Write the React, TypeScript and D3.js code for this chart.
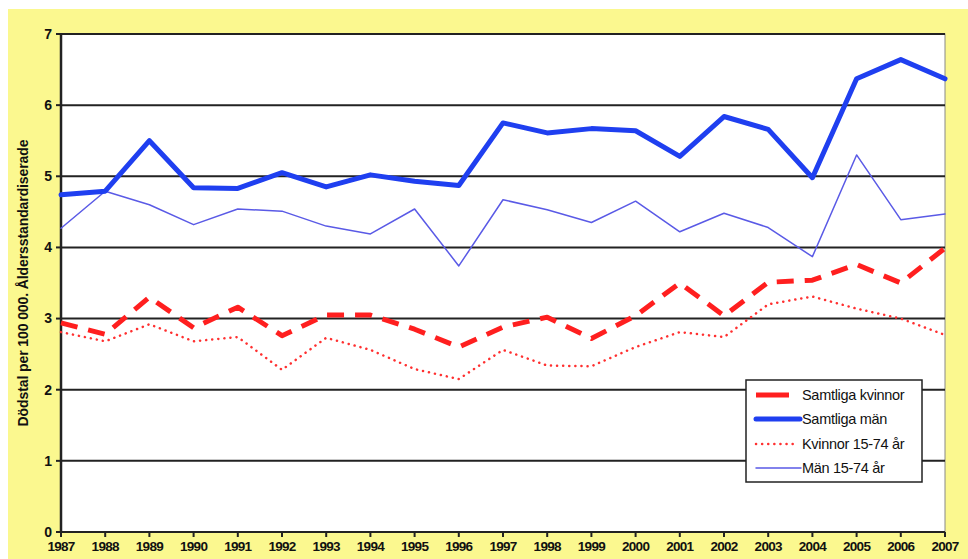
import React from "react";
import * as d3 from "d3";

const years = d3.range(1987, 2008);
const yTicks = [0, 1, 2, 3, 4, 5, 6, 7];

const samtligaMan = [4.74, 4.79, 5.5, 4.84, 4.83, 5.05, 4.85, 5.02, 4.93, 4.87, 5.75, 5.61, 5.67, 5.64, 5.28, 5.84, 5.66, 4.98, 6.37, 6.64, 6.37];
const man1574 = [4.27, 4.79, 4.6, 4.32, 4.54, 4.51, 4.3, 4.19, 4.54, 3.74, 4.67, 4.53, 4.35, 4.65, 4.22, 4.48, 4.28, 3.87, 5.3, 4.39, 4.47];
const samtligaKvinnor = [2.94, 2.78, 3.3, 2.87, 3.16, 2.76, 3.05, 3.05, 2.85, 2.6, 2.88, 3.02, 2.72, 3.04, 3.5, 3.04, 3.51, 3.54, 3.76, 3.5, 3.99];
const kvinnor1574 = [2.81, 2.68, 2.92, 2.68, 2.74, 2.28, 2.73, 2.56, 2.29, 2.15, 2.56, 2.34, 2.33, 2.6, 2.81, 2.74, 3.2, 3.31, 3.14, 3.0, 2.77];

const series = [
  { name: "Samtliga kvinnor", values: samtligaKvinnor, color: "#ff1f1f", width: 5, dash: "17,11", cap: "butt", legLen: 33 },
  { name: "Samtliga män", values: samtligaMan, color: "#1f3ff0", width: 5, dash: null, cap: "round", legLen: 44 },
  { name: "Kvinnor 15-74 år", values: kvinnor1574, color: "#ff3030", width: 2.5, dash: "0.1,6", cap: "round", legLen: 40 },
  { name: "Män 15-74 år", values: man1574, color: "#5a5ae6", width: 1.5, dash: null, cap: "round", legLen: 45 },
];

const W = 968;
const H = 559;
const left = 61;
const right = 945;
const top = 34;
const bottom = 532;

export default function App() {
  const x = d3.scaleLinear().domain([1987, 2007]).range([left, right]);
  const y = d3.scaleLinear().domain([0, 7]).range([bottom, top]);
  const line = d3
    .line<number>()
    .x((_, i) => x(years[i]))
    .y((d) => y(d));

  const font = "'Liberation Sans', Arial, sans-serif";
  const drawOrder = [series[2], series[0], series[3], series[1]];

  const legX = 746;
  const legY = 380;
  const legRows = [395, 419, 444, 468];

  return (
    <svg width={W} height={H} style={{ position: "absolute", left: 0, top: 0 }}>
      <rect x={0} y={0} width={W} height={H} fill="#fff" />
      <rect x={8} y={9} width={W - 8} height={H - 9} fill="#fbf88f" />
      <rect x={left} y={top} width={right - left} height={bottom - top} fill="#fff" stroke="#888" strokeWidth={1} />
      {yTicks.map((t) => (
        <g key={t}>
          <line x1={left} x2={right} y1={y(t)} y2={y(t)} stroke="#222" strokeWidth={2} />
          <line x1={left - 5} x2={left} y1={y(t)} y2={y(t)} stroke="#222" strokeWidth={2} />
          <text x={left - 9} y={y(t)} dy="0.35em" textAnchor="end" fontFamily={font} fontWeight="bold" fontSize={14} fill="#111">
            {t}
          </text>
        </g>
      ))}
      <line x1={left} x2={left} y1={top} y2={bottom + 1} stroke="#222" strokeWidth={2.5} />
      {years.map((yr) => (
        <g key={yr}>
          <line x1={x(yr)} x2={x(yr)} y1={bottom} y2={bottom + 5} stroke="#222" strokeWidth={2} />
          <text x={x(yr)} y={bottom + 19} textAnchor="middle" fontFamily={font} fontWeight="bold" fontSize={13.5} fill="#111" letterSpacing={-0.7}>
            {yr}
          </text>
        </g>
      ))}
      <text
        transform={`translate(28 283) rotate(-90)`}
        textAnchor="middle"
        fontFamily={font}
        fontWeight="bold"
        fontSize={14}
        fill="#111"
        letterSpacing={-0.1}
      >
        Dödstal per 100 000. Åldersstandardiserade
      </text>
      {drawOrder.map((s) => (
        <path
          key={s.name}
          d={line(s.values) ?? ""}
          fill="none"
          stroke={s.color}
          strokeWidth={s.width}
          strokeDasharray={s.dash ?? undefined}
          strokeLinecap={s.cap as any}
          strokeLinejoin="round"
        />
      ))}
      <rect x={legX} y={legY} width={176} height={102} fill="#fff" stroke="#222" strokeWidth={1.5} />
      {series.map((s, i) => {
        const ry = legRows[i];
        return (
          <g key={s.name}>
            <line
              x1={legX + 10}
              x2={legX + 10 + s.legLen}
              y1={ry}
              y2={ry}
              stroke={s.color}
              strokeWidth={s.width}
              strokeDasharray={i === 0 ? undefined : s.dash ?? undefined}
              strokeLinecap={s.cap as any}
            />
            <text x={legX + 56} y={ry} dy="0.35em" fontFamily={font} fontSize={14.5} fill="#111" letterSpacing={-0.3}>
              {s.name}
            </text>
          </g>
        );
      })}
    </svg>
  );
}
